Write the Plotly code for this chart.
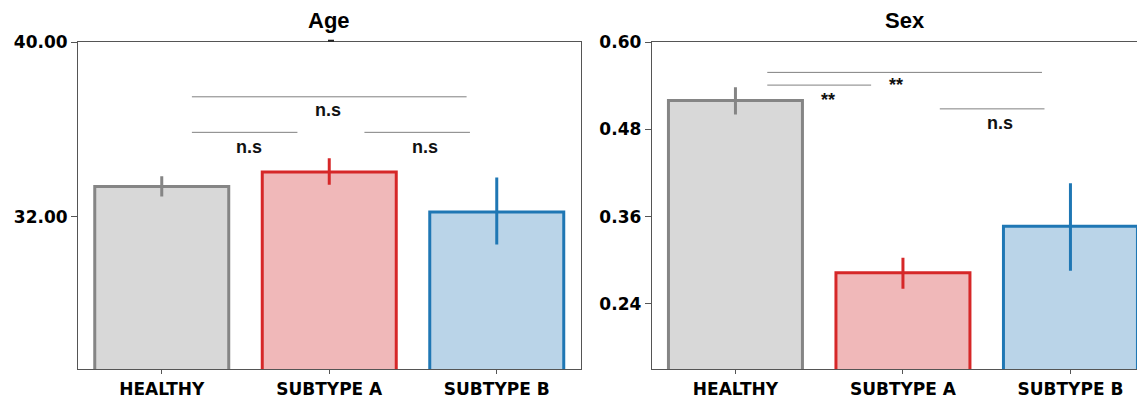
import plotly.graph_objects as go

categories = ["HEALTHY", "SUBTYPE A", "SUBTYPE B"]
edge_colors = ["#858585", "#d62728", "#1f77b4"]
fill_colors = ["#d8d8d8", "#f0b8b9", "#bad4e8"]

age_mean = [33.39, 34.05, 32.21]
age_err_hi = [0.47, 0.63, 1.59]
age_err_lo = [0.46, 0.58, 1.48]
age_ticks = [32.0, 40.0]

sex_mean = [0.520, 0.283, 0.347]
sex_err_hi = [0.018, 0.0205, 0.059]
sex_err_lo = [0.0193, 0.0223, 0.0615]
sex_ticks = [0.24, 0.36, 0.48, 0.60]

# significance brackets: (x0, x1, y) and labels (x, y, text)
age_lines = [(0.18, 1.82, 37.50), (0.18, 0.81, 35.87), (1.21, 1.84, 35.87)]
age_labels = [(0.99, 36.89, "n.s"), (0.52, 35.21, "n.s"), (1.57, 35.21, "n.s")]
sex_lines = [(0.19, 1.83, 0.5586), (0.19, 0.81, 0.5411), (1.22, 1.845, 0.5084)]
sex_labels = [(0.96, 0.5410, "**"), (0.55, 0.5207, "**"), (1.58, 0.4883, "n.s")]

# page body has an 8px margin; design in window pixels then offset
OFF = 8
W, H = 1145 - OFF, 398 - OFF


def px_x(p):
    return (p - OFF) / W


def px_y(p):
    return (H - (p - OFF)) / H


top_px, bot_px = 42.3, 369.3
ydom = [px_y(bot_px), px_y(top_px)]

fig = go.Figure()

xs = [0, 1, 2]
for means, hi, lo, xa, ya in [(age_mean, age_err_hi, age_err_lo, "x", "y"),
                              (sex_mean, sex_err_hi, sex_err_lo, "x2", "y2")]:
    for i in range(3):
        fig.add_trace(go.Bar(
            x=[xs[i]], y=[means[i]], width=0.8,
            marker=dict(color=fill_colors[i], line=dict(color=edge_colors[i], width=3)),
            error_y=dict(type="data", symmetric=False, array=[hi[i]], arrayminus=[lo[i]],
                         color=edge_colors[i], thickness=3, width=0),
            xaxis=xa, yaxis=ya, showlegend=False, hoverinfo="skip",
        ))

tickfont = dict(family="DejaVu Sans", size=17, color="#000", weight="bold")
axis_common = dict(showline=True, linecolor="#555", linewidth=1, ticks="outside",
                   tickcolor="#555", tickfont=tickfont, showgrid=False,
                   zeroline=False, automargin=False)

right_w = 1145 - 651.7
fig.update_layout(
    width=W, height=H, margin=dict(l=0, r=0, t=0, b=0),
    paper_bgcolor="white", plot_bgcolor="white", barmode="overlay",
    xaxis=dict(domain=[px_x(78), px_x(580.5)], range=[-0.5, 2.5], tickvals=xs,
               ticktext=categories, mirror=True, ticklen=4, **axis_common),
    yaxis=dict(domain=ydom, range=[25, 40], tickvals=age_ticks,
               ticktext=[f"{v:.2f}" for v in age_ticks], mirror=True, ticklen=6, **axis_common),
    xaxis2=dict(domain=[px_x(651.7), 1.0], range=[-0.5, -0.5 + right_w / 167.5], tickvals=xs,
                ticktext=categories, mirror=True, anchor="y2", ticklen=4, **axis_common),
    yaxis2=dict(domain=ydom, range=[0.15, 0.60], tickvals=sex_ticks,
                ticktext=[f"{v:.2f}" for v in sex_ticks], anchor="x2", ticklen=6, **axis_common),
)

shapes = []
annotations = []
for lines, labels, xr, yr in [(age_lines, age_labels, "x", "y"), (sex_lines, sex_labels, "x2", "y2")]:
    for x0, x1, y in lines:
        shapes.append(dict(type="line", xref=xr, yref=yr, x0=x0, x1=x1, y0=y, y1=y,
                           line=dict(color="#808080", width=1)))
    for x, y, t in labels:
        annotations.append(dict(x=x, y=y, xref=xr, yref=yr, text=t, showarrow=False,
                                xanchor="center", yanchor="middle",
                                font=dict(family="Liberation Sans", size=18, color="#111",
                                          weight="bold")))

# small dash below the Age title
shapes.append(dict(type="line", xref="paper", yref="paper", x0=px_x(328), x1=px_x(334),
                   y0=px_y(40.7), y1=px_y(40.7), line=dict(color="#222", width=2)))

for title, cx in [("Age", 329.2), ("Sex", 905)]:
    annotations.append(dict(x=px_x(cx), y=px_y(21), xref="paper", yref="paper", text=title,
                            showarrow=False, xanchor="center", yanchor="middle",
                            font=dict(family="Liberation Sans", size=22, color="#000",
                                      weight="bold")))

fig.update_layout(shapes=shapes, annotations=annotations)
fig.write_html("out.html")
